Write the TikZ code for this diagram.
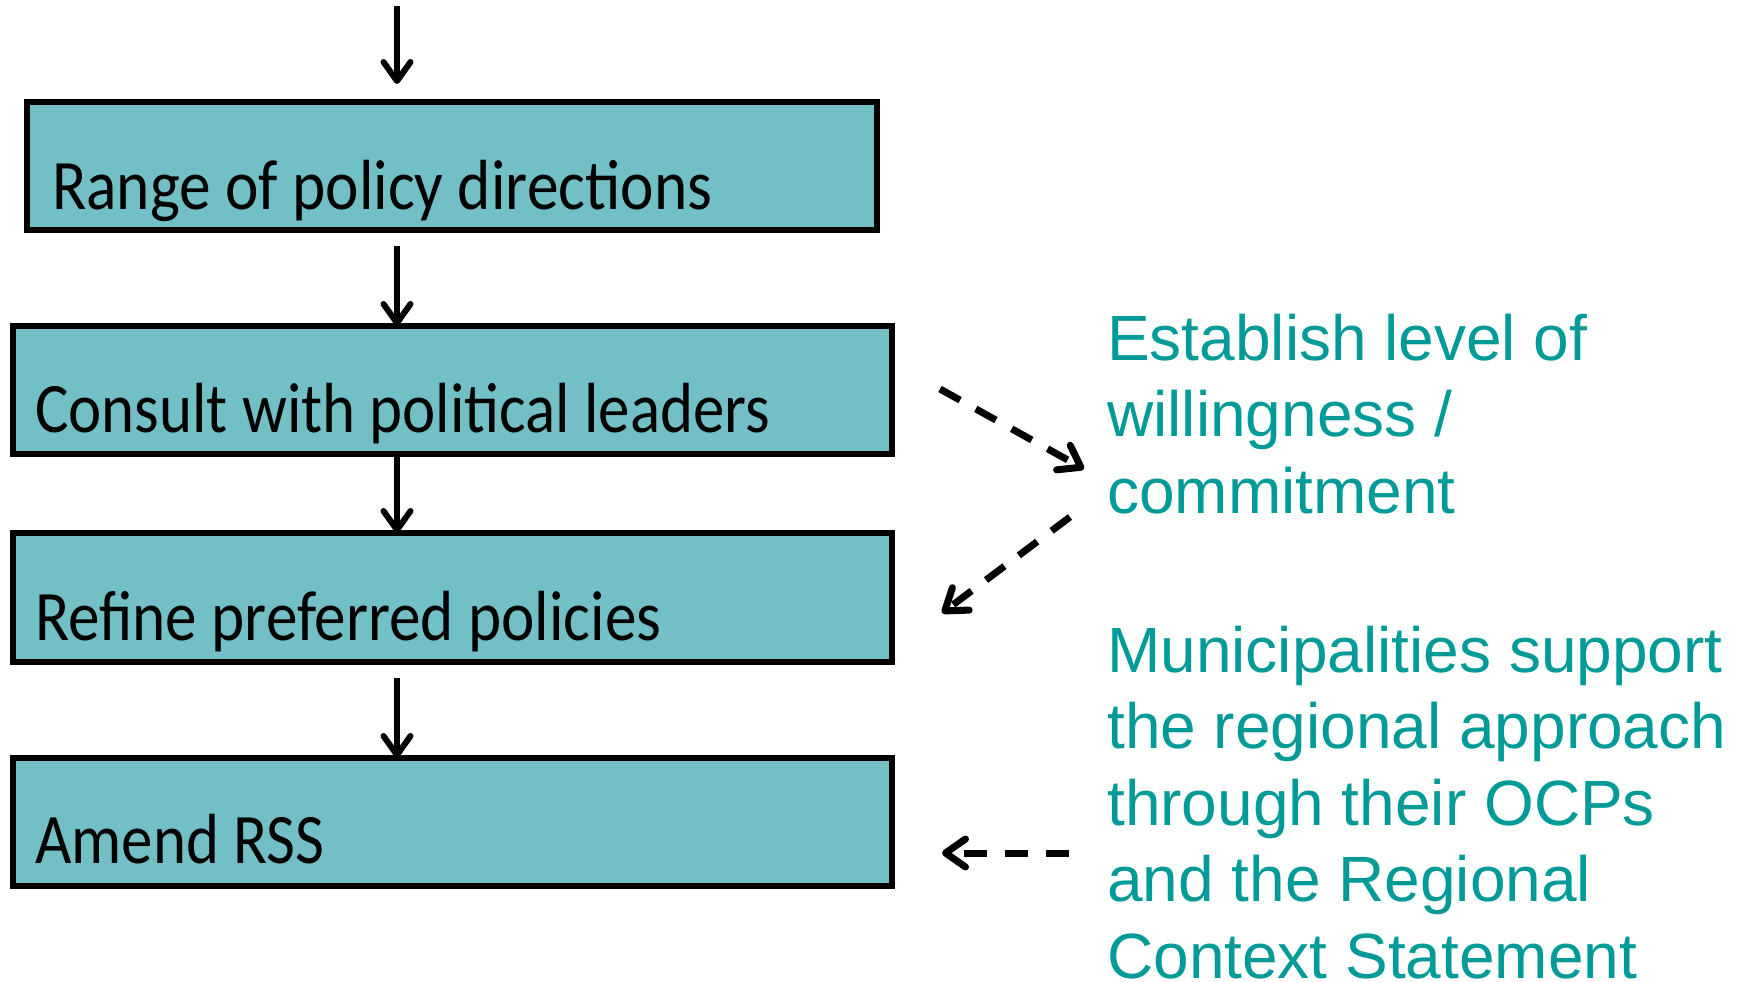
\documentclass[tikz,border=0pt]{standalone}
\usepackage{fontspec}
\usepackage{graphicx}
\setmainfont{Liberation Sans}
\newfontfamily\boxfont{Carlito}
\usetikzlibrary{arrows.meta,calc}
\definecolor{boxfill}{RGB}{114,191,197}
\definecolor{tealtext}{RGB}{0,155,152}
\begin{document}
\begin{tikzpicture}[x=1pt,y=-1pt,
  stepbox/.style={draw=black, line width=5.5pt, fill=boxfill, rectangle, inner sep=0pt, outer sep=0pt, anchor=north west, minimum height=128pt},
  boxtext/.style={inner sep=0pt, anchor=base west, font=\boxfont\fontsize{71}{80}\selectfont},
  rtext/.style={inner sep=0pt, anchor=base west, align=left, text=tealtext, font=\fontsize{64}{76.5}\selectfont},
  arr/.style={line width=6pt, -{Straight Barb[length=19pt,width=27pt,line cap=round,line join=round]}},
  darr/.style={line width=7pt, dash pattern=on 23pt off 18pt, -{Straight Barb[length=20pt,width=28pt,line cap=round,line join=round]}}]
\useasboundingbox (0,0) rectangle (1743,982);
% boxes
\node[stepbox, minimum width=850pt] (b1) at (27,102) {};
\node[stepbox, minimum width=879pt] (b2) at (13,326) {};
\node[stepbox, minimum width=879pt, minimum height=129pt] (b3) at (13,533) {};
\node[stepbox, minimum width=879pt] (b4) at (13,758) {};
% box texts
\node[boxtext] (l1) at ($(b1.south west)+(25,-21)$) {\resizebox{660pt}{\height}{Range of policy directions}};
\node[boxtext] (l2) at ($(b2.south west)+(22,-22)$) {\resizebox{735pt}{\height}{Consult with political leaders}};
\node[boxtext] (l3) at ($(b3.south west)+(22,-22)$) {\resizebox{626pt}{\height}{Refine preferred policies}};
\node[boxtext] (l4) at ($(b4.south west)+(22,-23)$) {\resizebox{289pt}{\height}{Amend RSS}};
% right texts (base anchor = baseline of last line)
\node[rtext] (t1) at (1107,513) {Establish level of\\willingness /\\commitment};
\node[rtext] (t2) at (1107,978) {Municipalities support\\the regional approach\\through their OCPs\\and the Regional\\Context Statement};
% solid arrows
\coordinate (top) at (397,6);
\coordinate (topend) at (397,84);
\draw[arr] (top) -- (topend);
\draw[arr, shorten <=16pt] (b1.south -| top) -- (b2.north -| top);
\draw[arr] (b2.south -| top) -- (b3.north -| top);
\draw[arr, shorten <=16pt] (b3.south -| top) -- (b4.north -| top);
% dashed arrows
\coordinate (d1s) at (940,389);
\coordinate (d1e) at (1084,469);
\coordinate (d2s) at (1070,517);
\coordinate (d2e) at (942,613);
\coordinate (d3s) at (1069,853);
\coordinate (d3e) at (942,853);
\draw[darr] (d1s) -- (d1e);
\draw[darr] (d2s) -- (d2e);
\draw[darr] (d3s) -- (d3e);
\end{tikzpicture}
\end{document}
